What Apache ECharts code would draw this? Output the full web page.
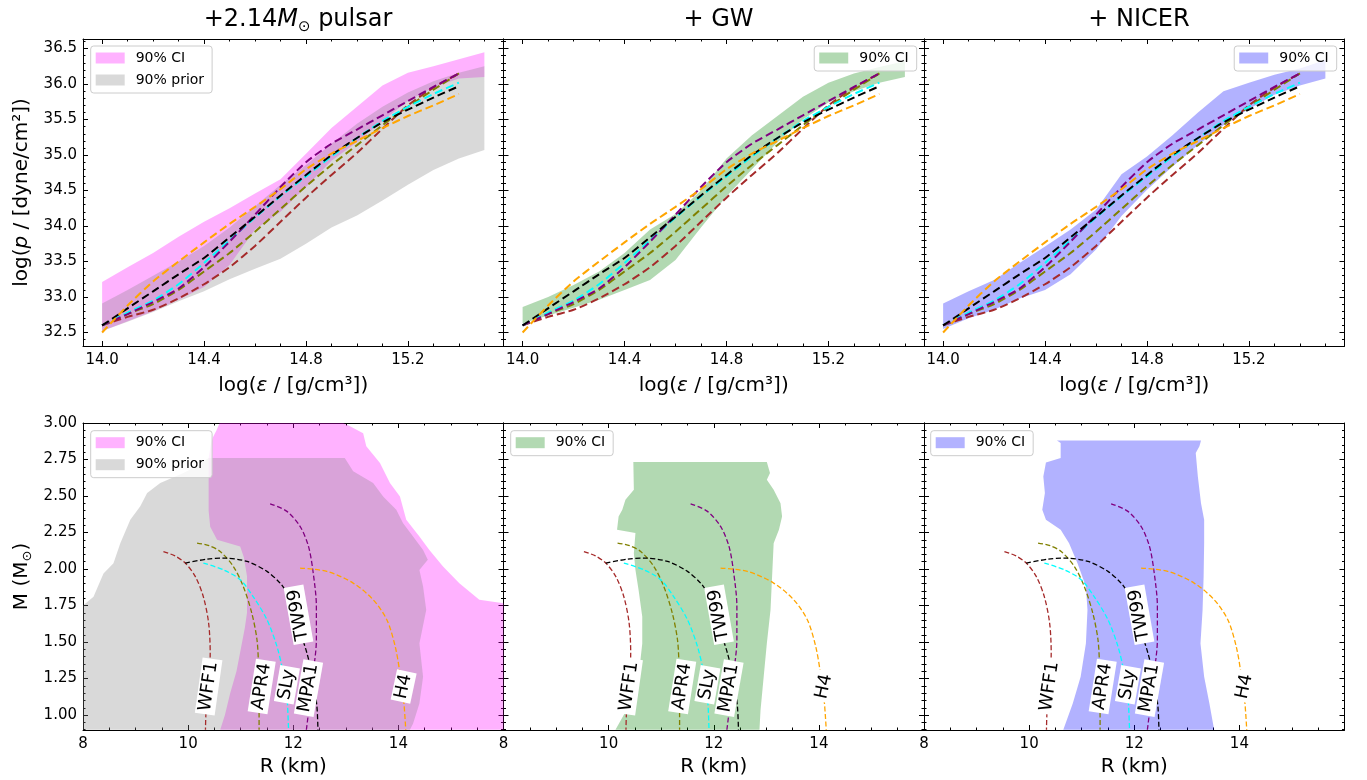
<!DOCTYPE html>
<html>
<head>
<meta charset="utf-8">
<script src="https://cdn.jsdelivr.net/npm/echarts@6/dist/echarts.min.js"></script>
<style>
html,body{margin:0;padding:0;background:#fff;}
#c{width:1367px;height:780px;}
</style>
</head>
<body>
<div id="c"></div>
<script>
// ---------------- DATA ----------------
// EOS panels: log(eps) grid for the bands
const bandX = [14.0, 14.1, 14.2, 14.3, 14.4, 14.5, 14.6, 14.7, 14.8, 14.9, 15.0, 15.1, 15.2, 15.3, 15.4, 15.5];
// 90% CI / prior bands (log p), upper and lower edges
const pulsarUp  = [33.21, 33.42, 33.62, 33.85, 34.06, 34.25, 34.46, 34.66, 35.02, 35.38, 35.68, 35.98, 36.16, 36.25, 36.35, 36.45];
const pulsarLow = [32.52, 32.66, 32.80, 32.96, 33.14, 33.45, 33.95, 34.20, 34.55, 34.92, 35.18, 35.48, 35.76, 35.95, 36.08, 36.10];
const priorUp   = [32.91, 33.10, 33.30, 33.50, 33.72, 33.98, 34.28, 34.58, 34.86, 35.16, 35.44, 35.68, 35.88, 36.04, 36.16, 36.25];
const priorLow  = [32.52, 32.65, 32.79, 32.94, 33.08, 33.25, 33.40, 33.54, 33.75, 33.98, 34.15, 34.36, 34.58, 34.79, 34.95, 35.07];
const gwUp      = [32.86, 33.00, 33.17, 33.36, 33.62, 33.95, 34.17, 34.50, 34.95, 35.28, 35.55, 35.82, 36.02, 36.15, 36.24, 36.32];
const gwLow     = [32.63, 32.74, 32.85, 32.96, 33.10, 33.24, 33.52, 33.98, 34.42, 34.80, 35.18, 35.50, 35.74, 35.90, 36.02, 36.10];
const nicerUp   = [32.91, 33.08, 33.24, 33.48, 33.71, 33.95, 34.23, 34.73, 34.98, 35.28, 35.60, 35.90, 36.02, 36.13, 36.22, 36.34];
const nicerLow  = [32.55, 32.70, 32.82, 32.98, 33.10, 33.32, 33.67, 34.14, 34.51, 34.84, 35.14, 35.42, 35.65, 35.85, 35.98, 36.08];

// EOS models log p at log eps
const eosX  = [14.0, 14.1, 14.2, 14.3, 14.4, 14.5, 14.6, 14.7, 14.8, 14.9, 15.0, 15.1, 15.2, 15.3, 15.4];
const wff1P = [32.60, 32.72, 32.82, 32.98, 33.18, 33.42, 33.72, 34.06, 34.40, 34.72, 35.03, 35.37, 35.70, 35.95, 36.15];
const apr4P = [32.60, 32.76, 32.90, 33.10, 33.36, 33.62, 33.92, 34.24, 34.56, 34.86, 35.14, 35.42, 35.68, 35.92, 36.15];
const slyP  = [32.60, 32.78, 32.95, 33.18, 33.48, 33.80, 34.12, 34.42, 34.70, 34.98, 35.24, 35.48, 35.68, 35.86, 36.02];
const mpa1P = [32.60, 32.76, 32.93, 33.12, 33.42, 33.78, 34.16, 34.55, 34.90, 35.16, 35.36, 35.56, 35.76, 35.96, 36.15];
const tw99P = [32.60, 32.84, 33.08, 33.32, 33.55, 33.84, 34.13, 34.43, 34.72, 35.00, 35.24, 35.46, 35.64, 35.81, 35.97];
const h4P   = [32.50, 32.88, 33.22, 33.50, 33.77, 34.03, 34.27, 34.52, 34.80, 35.02, 35.20, 35.38, 35.55, 35.70, 35.86];

// M-R models [R km, M Msun]
const wff1MR = [[9.53,2.12],[9.75,2.09],[9.945,2.041],[10.135,1.95],[10.29,1.81],[10.39,1.63],[10.42,1.425],[10.41,1.30],[10.39,1.196],[10.34,1.014],[10.33,0.9]];
const apr4MR = [[10.17,2.178],[10.40,2.16],[10.61,2.12],[10.86,2.018],[11.05,1.88],[11.21,1.70],[11.31,1.516],[11.34,1.333],[11.35,1.128],[11.35,0.9]];
const slyMR  = [[10.29,2.041],[10.67,1.995],[10.99,1.927],[11.24,1.81],[11.50,1.653],[11.69,1.47],[11.81,1.288],[11.88,1.128],[11.91,0.9]];
const tw99MR = [[9.945,2.041],[10.36,2.068],[10.67,2.075],[11.12,2.052],[11.50,1.984],[11.75,1.904],[11.88,1.836],[12.00,1.74],[12.10,1.607],[12.26,1.425],[12.38,1.242],[12.45,1.06],[12.47,0.9]];
const mpa1MR = [[11.56,2.447],[11.88,2.395],[12.13,2.292],[12.29,2.155],[12.38,1.973],[12.44,1.744],[12.44,1.516],[12.38,1.288],[12.32,1.105],[12.25,0.9]];
const h4MR   = [[12.13,2.007],[12.64,1.984],[13.14,1.904],[13.52,1.79],[13.78,1.653],[13.94,1.47],[14.03,1.288],[14.10,1.105],[14.14,0.9]];

// M-R 90% regions: left edge (ascending M) and right edge (descending M)
const pulsarMRLeft  = [[10.61,0.9],[10.70,1.0],[10.80,1.15],[10.92,1.30],[10.99,1.43],[11.08,1.60],[11.12,1.70],[11.12,1.95],[11.06,2.08],[10.99,2.155],[10.55,2.20],[10.42,2.29],[10.39,2.40],[10.39,2.76],[10.43,2.85],[10.47,2.90],[10.54,2.95],[10.60,3.0]];
const pulsarMRRight = [[12.95,3.0],[13.08,2.977],[13.33,2.93],[13.39,2.84],[13.65,2.726],[13.84,2.59],[14.03,2.497],[14.15,2.337],[14.40,2.223],[14.59,2.131],[14.85,2.017],[15.16,1.903],[15.54,1.789],[16.0,1.766],[16.0,0.9]];
const priorMRLeft   = [[8.0,0.9],[8.0,1.75],[8.2,1.81],[8.39,1.97],[8.58,2.04],[8.71,2.177],[8.9,2.337],[9.09,2.43],[9.22,2.52],[9.47,2.589],[9.91,2.657],[10.16,2.703],[10.39,2.76]];
const priorMRRight  = [[12.98,2.76],[13.14,2.669],[13.52,2.589],[13.71,2.497],[13.96,2.406],[14.09,2.314],[14.28,2.223],[14.47,2.131],[14.56,2.063],[14.40,1.994],[14.47,1.88],[14.53,1.72],[14.40,1.491],[14.47,1.263],[14.40,1.08],[14.28,0.943],[14.22,0.9]];
const gwMRLeft      = [[10.13,0.9],[10.41,1.08],[10.57,1.263],[10.64,1.491],[10.64,1.674],[10.57,1.857],[10.51,1.994],[10.48,2.109],[10.51,2.246],[10.16,2.269],[10.19,2.36],[10.26,2.406],[10.32,2.474],[10.48,2.543],[10.47,2.733]];
const gwMRRight     = [[13.01,2.733],[13.07,2.657],[13.01,2.611],[13.14,2.543],[13.27,2.451],[13.30,2.36],[13.24,2.269],[13.14,2.177],[13.11,1.949],[13.08,1.72],[13.01,1.491],[12.95,1.263],[12.89,1.034],[12.87,0.9]];
const nicerMRLeft   = [[10.65,0.9],[10.83,1.08],[10.98,1.263],[11.08,1.491],[11.11,1.72],[11.08,1.88],[10.92,2.04],[10.76,2.177],[10.60,2.269],[10.32,2.337],[10.25,2.406],[10.30,2.52],[10.27,2.634],[10.32,2.73],[10.60,2.76],[10.60,2.863],[10.53,2.881]];
const nicerMRRight  = [[13.27,2.881],[13.24,2.84],[13.17,2.794],[13.21,2.634],[13.27,2.451],[13.33,2.337],[13.33,2.177],[13.32,1.949],[13.30,1.72],[13.26,1.491],[13.33,1.263],[13.43,1.08],[13.52,0.9]];

// Curve label anchors: name, R, M, angle
const curveLabels = [
  ['WFF1', 10.39, 1.196, 82],
  ['APR4', 11.40, 1.196, 81],
  ['SLy',  11.88, 1.208, 80],
  ['MPA1', 12.29, 1.185, 80],
  ['TW99', 12.10, 1.687, 100],
  ['H4',   14.10, 1.196, 78]
];

// Ticks
const eosXMajor = [14.0, 14.4, 14.8, 15.2];
const eosYMajor = [32.5, 33.0, 33.5, 34.0, 34.5, 35.0, 35.5, 36.0, 36.5];
const mrXMajor  = [8, 10, 12, 14, 16];
const mrXLabels = [8, 10, 12, 14];
const mrYMajor  = [1.00, 1.25, 1.50, 1.75, 2.00, 2.25, 2.50, 2.75, 3.00];

// ---------------- BUILD ----------------
const FONT = 'DejaVu Sans';
function steps(a, b, step, skip) {
  const out = [];
  const n = Math.round((b - a) / step);
  for (let i = 0; i <= n; i++) {
    const v = Math.round((a + i * step) * 1000) / 1000;
    if (!skip.some(s => Math.abs(s - v) < 1e-6)) out.push(v);
  }
  return out;
}
const eosXMinor = steps(14.0, 15.5, 0.1, eosXMajor);
const eosYMinor = steps(32.4, 36.6, 0.1, eosYMajor);
const mrXMinor  = steps(8, 16, 0.5, mrXMajor);
const mrYMinor  = steps(0.9, 3.0, 0.05, mrYMajor);

const EOS_RANGE = {x0: 13.925, x1: 15.575, y0: 32.31, y1: 36.635};
const MR_RANGE  = {x0: 8, x1: 16, y0: 0.898, y1: 3.0};

const PINK = 'rgba(255,0,255,0.3)';
const GRAY = 'rgba(128,128,128,0.3)';
const GREEN = 'rgba(0,128,0,0.3)';
const BLUE = 'rgba(0,0,255,0.3)';
const C = {WFF1:'#a52a2a', APR4:'#808000', SLy:'#00ffff', MPA1:'#800080', TW99:'#000000', H4:'#ffa500'};

const panelW = 420.5, panelH = 307;
const lefts = [83, 503.5, 924];
const grids = [];
for (let r = 0; r < 2; r++) for (let c = 0; c < 3; c++) {
  grids.push({left: lefts[c], top: r === 0 ? 39 : 423, width: panelW, height: panelH, containLabel: false});
}

const xAxes = [], yAxes = [];
const nameStyle = {fontSize: 20, color: '#000', fontFamily: FONT, lineHeight: 24,
  rich: {i: {fontStyle: 'italic', fontSize: 20, fontFamily: FONT, color: '#000', lineHeight: 24},
         s: {fontSize: 13, fontFamily: FONT, color: '#000', lineHeight: 15, verticalAlign: 'bottom'}}};
const tickLine = {color: '#000', width: 1};

function addAxes(g, R, xMaj, xMin, yMaj, yMin, xLab, yLab, xFmt, yFmt, showY, xName, yName, xGap) {
  const base = {type: 'value', gridIndex: g, splitLine: {show: false}};
  const xi = xAxes.length;
  xAxes.push(Object.assign({}, base, {position: 'bottom', min: R.x0, max: R.x1,
    axisLine: {show: true, onZero: false, lineStyle: tickLine},
    axisTick: {show: true, inside: true, length: 5, customValues: xMaj, lineStyle: tickLine},
    axisLabel: {show: true, customValues: xLab, formatter: xFmt, color: '#000', fontSize: 15, fontFamily: FONT, margin: 7},
    name: xName, nameLocation: 'middle', nameGap: xGap, nameTextStyle: nameStyle}));
  xAxes.push(Object.assign({}, base, {position: 'bottom', min: R.x0, max: R.x1,
    axisLine: {show: false, onZero: false},
    axisTick: {show: true, inside: true, length: 2.5, customValues: xMin, lineStyle: tickLine},
    axisLabel: {show: false}}));
  xAxes.push(Object.assign({}, base, {position: 'top', min: R.x0, max: R.x1,
    axisLine: {show: true, onZero: false, lineStyle: tickLine},
    axisTick: {show: true, inside: true, length: 5, customValues: xMaj, lineStyle: tickLine},
    axisLabel: {show: false}}));
  xAxes.push(Object.assign({}, base, {position: 'top', min: R.x0, max: R.x1,
    axisLine: {show: false, onZero: false},
    axisTick: {show: true, inside: true, length: 2.5, customValues: xMin, lineStyle: tickLine},
    axisLabel: {show: false}}));
  const yi = yAxes.length;
  yAxes.push(Object.assign({}, base, {position: 'left', min: R.y0, max: R.y1,
    axisLine: {show: true, onZero: false, lineStyle: tickLine},
    axisTick: {show: true, inside: true, length: 5, customValues: yMaj, lineStyle: tickLine},
    axisLabel: {show: showY, customValues: yLab, formatter: yFmt, color: '#000', fontSize: 15, fontFamily: FONT, margin: 6},
    name: showY ? yName : '', nameLocation: 'middle', nameGap: 49, nameRotate: 90, nameTextStyle: nameStyle}));
  yAxes.push(Object.assign({}, base, {position: 'left', min: R.y0, max: R.y1,
    axisLine: {show: false, onZero: false},
    axisTick: {show: true, inside: true, length: 2.5, customValues: yMin, lineStyle: tickLine},
    axisLabel: {show: false}}));
  yAxes.push(Object.assign({}, base, {position: 'right', min: R.y0, max: R.y1,
    axisLine: {show: true, onZero: false, lineStyle: tickLine},
    axisTick: {show: true, inside: true, length: 5, customValues: yMaj, lineStyle: tickLine},
    axisLabel: {show: false}}));
  yAxes.push(Object.assign({}, base, {position: 'right', min: R.y0, max: R.y1,
    axisLine: {show: false, onZero: false},
    axisTick: {show: true, inside: true, length: 2.5, customValues: yMin, lineStyle: tickLine},
    axisLabel: {show: false}}));
  return {xi, yi};
}

const f1 = v => Number(v).toFixed(1);
const f2 = v => Number(v).toFixed(2);
const f0 = v => String(Math.round(v));

const ax = [];
for (let c = 0; c < 3; c++) {
  ax.push(addAxes(c, EOS_RANGE, eosXMajor, eosXMinor, eosYMajor, eosYMinor, eosXMajor, eosYMajor, f1, f1,
    c === 0, 'log({i|ε} / [g/cm³])', 'log({i|p} / [dyne/cm²])', 28));
}
for (let c = 0; c < 3; c++) {
  ax.push(addAxes(3 + c, MR_RANGE, mrXMajor, mrXMinor, mrYMajor, mrYMinor, mrXLabels, mrYMajor, f0, f2,
    c === 0, 'R (km)', 'M (M{s|⊙})', 25));
}

function polygonSeries(name, color, a, pts, z) {
  return {
    type: 'custom', name: name, xAxisIndex: a.xi, yAxisIndex: a.yi, clip: true, z: z, silent: true,
    itemStyle: {color: color},
    data: pts,
    encode: {x: 0, y: 1},
    renderItem: function (params, api) {
      if (params.dataIndex !== 0) return null;
      const points = pts.map(p => api.coord(p));
      return {type: 'polygon', shape: {points: points}, style: {fill: color}};
    }
  };
}
function bandPts(xs, up, low) {
  const top = xs.map((x, i) => [x, up[i]]);
  const bot = xs.map((x, i) => [x, low[i]]).reverse();
  return top.concat(bot);
}
function regionPts(left, right) { return left.concat(right); }

function lineSeries(name, a, data, width, dash, smooth) {
  return {
    type: 'line', name: name, xAxisIndex: a.xi, yAxisIndex: a.yi, data: data,
    showSymbol: false, symbol: 'none', smooth: smooth, z: 3, silent: true,
    lineStyle: {color: C[name], width: width, type: dash}
  };
}

const series = [];
// EOS panels
const eosModels = [['WFF1', wff1P], ['APR4', apr4P], ['SLy', slyP], ['MPA1', mpa1P], ['TW99', tw99P], ['H4', h4P]];
series.push(polygonSeries('90% CI', PINK, ax[0], bandPts(bandX, pulsarUp, pulsarLow), 1));
series.push(polygonSeries('90% prior', GRAY, ax[0], bandPts(bandX, priorUp, priorLow), 2));
series.push(polygonSeries('90% CI', GREEN, ax[1], bandPts(bandX, gwUp, gwLow), 1));
series.push(polygonSeries('90% CI', BLUE, ax[2], bandPts(bandX, nicerUp, nicerLow), 1));
for (let c = 0; c < 3; c++) {
  eosModels.forEach(m => series.push(lineSeries(m[0], ax[c], eosX.map((x, i) => [x, m[1][i]]), 2, [8, 4], 0.2)));
}
// M-R panels
const mrModels = [['WFF1', wff1MR], ['APR4', apr4MR], ['SLy', slyMR], ['MPA1', mpa1MR], ['TW99', tw99MR], ['H4', h4MR]];
series.push(polygonSeries('90% CI', PINK, ax[3], regionPts(pulsarMRLeft, pulsarMRRight), 1));
series.push(polygonSeries('90% prior', GRAY, ax[3], regionPts(priorMRLeft, priorMRRight), 2));
series.push(polygonSeries('90% CI', GREEN, ax[4], regionPts(gwMRLeft, gwMRRight), 1));
series.push(polygonSeries('90% CI', BLUE, ax[5], regionPts(nicerMRLeft, nicerMRRight), 1));
for (let c = 3; c < 6; c++) {
  mrModels.forEach(m => series.push(lineSeries(m[0], ax[c], m[1], 1.3, [5, 2.5], 0.3)));
  series.push({
    type: 'scatter', name: 'labels', xAxisIndex: ax[c].xi, yAxisIndex: ax[c].yi, z: 5, silent: true,
    symbol: 'rect', symbolSize: 1, itemStyle: {color: '#ffffff', opacity: 1},
    data: curveLabels.map(l => ({value: [l[1], l[2]], name: l[0], label: {rotate: l[3]}})),
    label: {show: true, position: 'inside', formatter: '{b}', fontSize: 18, fontFamily: FONT, color: '#000000',
            opacity: 1, textBorderWidth: 0, backgroundColor: '#ffffff', padding: [2, 3, 0, 3]}
  });
}

const legendBase = {
  orient: 'vertical', icon: 'rect', itemWidth: 29, itemHeight: 11, itemGap: 6,
  padding: [4, 8, 5, 5], backgroundColor: 'rgba(255,255,255,0.8)', borderColor: '#cccccc',
  borderWidth: 1, borderRadius: 3, selectedMode: false,
  textStyle: {fontSize: 14, color: '#000', fontFamily: FONT, lineHeight: 16, padding: [0, 0, 0, 6]}
};
const ciPink = {name: '90% CI', itemStyle: {color: PINK}};
const prGray = {name: '90% prior', itemStyle: {color: GRAY}};
const ciGreen = {name: '90% CI', itemStyle: {color: GREEN}};
const ciBlue = {name: '90% CI', itemStyle: {color: BLUE}};
const legends = [
  Object.assign({}, legendBase, {left: 90.7, top: 46, data: [ciPink, prGray]}),
  Object.assign({}, legendBase, {right: 450.3, top: 46, data: [ciGreen]}),
  Object.assign({}, legendBase, {right: 30.3, top: 46, data: [ciBlue]}),
  Object.assign({}, legendBase, {left: 90.7, top: 430.7, data: [ciPink, prGray]}),
  Object.assign({}, legendBase, {left: 510.7, top: 430.7, data: [ciGreen]}),
  Object.assign({}, legendBase, {left: 930.7, top: 430.7, data: [ciBlue]})
];

const titleStyle = {fontSize: 24, fontWeight: 'normal', color: '#000', fontFamily: FONT, lineHeight: 30,
  rich: {m: {fontStyle: 'italic', fontSize: 24, fontFamily: FONT, color: '#000', lineHeight: 30},
         s: {fontSize: 15, fontFamily: FONT, color: '#000', lineHeight: 18, verticalAlign: 'bottom'}}};
const titles = [
  {text: '+2.14{m|M}{s|⊙} pulsar', left: 293, top: 0, textAlign: 'center', textStyle: titleStyle},
  {text: '+ GW', left: 713.5, top: 0, textAlign: 'center', textStyle: titleStyle},
  {text: '+ NICER', left: 1134, top: 0, textAlign: 'center', textStyle: titleStyle}
];

const chart = echarts.init(document.getElementById('c'), null, {renderer: 'canvas'});
chart.setOption({
  animation: false,
  backgroundColor: '#ffffff',
  textStyle: {fontFamily: FONT},
  title: titles,
  legend: legends,
  grid: grids,
  xAxis: xAxes,
  yAxis: yAxes,
  series: series
});
</script>
</body>
</html>
